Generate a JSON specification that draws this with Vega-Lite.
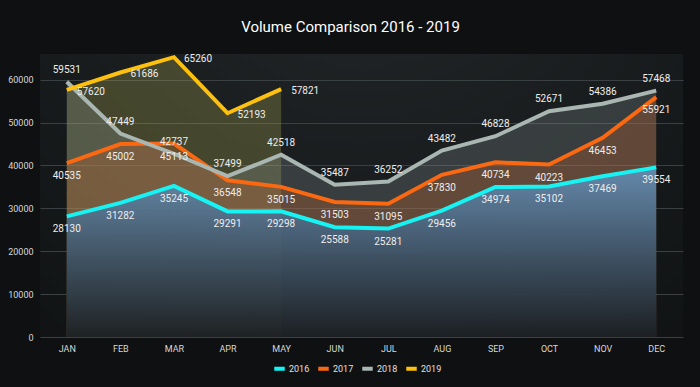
{
  "$schema": "https://vega.github.io/schema/vega-lite/v6.json",
  "width": 643,
  "height": 283,
  "autosize": "none",
  "padding": {"left": 40, "top": 54, "right": 17, "bottom": 50},
  "background": "#0e1011",
  "title": {"text": "Volume Comparison 2016 - 2019", "color": "#ffffff", "fontSize": 15, "fontWeight": "normal", "font": "Roboto, sans-serif", "offset": 14, "dx": -11},
  "data": {"values": [
    {"month": "JAN", "year": "2016", "value": 28130}, {"month": "FEB", "year": "2016", "value": 31282}, {"month": "MAR", "year": "2016", "value": 35245}, {"month": "APR", "year": "2016", "value": 29291}, {"month": "MAY", "year": "2016", "value": 29298}, {"month": "JUN", "year": "2016", "value": 25588}, {"month": "JUL", "year": "2016", "value": 25281}, {"month": "AUG", "year": "2016", "value": 29456}, {"month": "SEP", "year": "2016", "value": 34974}, {"month": "OCT", "year": "2016", "value": 35102}, {"month": "NOV", "year": "2016", "value": 37469}, {"month": "DEC", "year": "2016", "value": 39554},
    {"month": "JAN", "year": "2017", "value": 40535}, {"month": "FEB", "year": "2017", "value": 45002}, {"month": "MAR", "year": "2017", "value": 45113}, {"month": "APR", "year": "2017", "value": 36548}, {"month": "MAY", "year": "2017", "value": 35015}, {"month": "JUN", "year": "2017", "value": 31503}, {"month": "JUL", "year": "2017", "value": 31095}, {"month": "AUG", "year": "2017", "value": 37830}, {"month": "SEP", "year": "2017", "value": 40734}, {"month": "OCT", "year": "2017", "value": 40223}, {"month": "NOV", "year": "2017", "value": 46453}, {"month": "DEC", "year": "2017", "value": 55921},
    {"month": "JAN", "year": "2018", "value": 59531}, {"month": "FEB", "year": "2018", "value": 47449}, {"month": "MAR", "year": "2018", "value": 42737}, {"month": "APR", "year": "2018", "value": 37499}, {"month": "MAY", "year": "2018", "value": 42518}, {"month": "JUN", "year": "2018", "value": 35487}, {"month": "JUL", "year": "2018", "value": 36252}, {"month": "AUG", "year": "2018", "value": 43482}, {"month": "SEP", "year": "2018", "value": 46828}, {"month": "OCT", "year": "2018", "value": 52671}, {"month": "NOV", "year": "2018", "value": 54386}, {"month": "DEC", "year": "2018", "value": 57468},
    {"month": "JAN", "year": "2019", "value": 57620}, {"month": "FEB", "year": "2019", "value": 61686}, {"month": "MAR", "year": "2019", "value": 65260}, {"month": "APR", "year": "2019", "value": 52193}, {"month": "MAY", "year": "2019", "value": 57821}
  ]},
  "encoding": {
    "x": {"field": "month", "type": "ordinal", "sort": ["JAN","FEB","MAR","APR","MAY","JUN","JUL","AUG","SEP","OCT","NOV","DEC"], "scale": {"type": "point", "padding": 0.5},
      "axis": {"title": null, "domain": false, "ticks": false, "grid": false, "labelAngle": 0, "labelColor": "#d8d8d8", "labelFontSize": 9, "labelPadding": 7}},
    "y": {"field": "value", "type": "quantitative", "scale": {"domain": [0, 66000], "nice": false},
      "axis": {"title": null, "values": [0,10000,20000,30000,40000,50000,60000], "format": "d", "domain": false, "ticks": false, "grid": true, "gridColor": "#3b4043", "gridWidth": 1, "labelColor": "#d8d8d8", "labelFontSize": 9, "labelPadding": 7}}
  },
  "layer": [
    {"transform": [{"filter": "datum.year == '2019'"}], "mark": {"type": "area", "color": "#c8c25a", "opacity": 0.25}},
    {"transform": [{"filter": "datum.year == '2018'"}], "mark": {"type": "area", "color": "#8a9696", "opacity": 0.28}},
    {"transform": [{"filter": "datum.year == '2017'"}], "mark": {"type": "area", "color": "#c8652a", "opacity": 0.3}},
    {"transform": [{"filter": "datum.year == '2016'"}], "mark": {"type": "area", "opacity": 0.88, "color": {"gradient": "linear", "x1": 0, "y1": 0, "x2": 0, "y2": 1, "stops": [{"offset": 0, "color": "#6592bb"}, {"offset": 1, "color": "#131a20"}]}}},
    {"mark": {"type": "line", "strokeWidth": 4},
      "encoding": {"color": {"field": "year", "type": "nominal", "scale": {"domain": ["2016","2017","2018","2019"], "range": ["#17f2f2","#fb6812","#a9b6b1","#fdc00e"]},
        "legend": {"title": null, "orient": "none", "legendX": 232, "legendY": 307, "direction": "horizontal", "symbolType": "stroke", "symbolStrokeWidth": 4, "symbolSize": 110, "labelColor": "#e0e0e0", "labelFontSize": 9, "labelOffset": 2, "columnPadding": 0, "symbolOffset": 0}}}},
    {"transform": [{"filter": "datum.year == '2016' || datum.year == '2017'"}], "mark": {"type": "text", "dy": 13, "color": "#eeeeee", "fontSize": 10}, "encoding": {"text": {"field": "value", "type": "quantitative", "format": "d"}}},
    {"transform": [{"filter": "datum.year == '2018'"}], "mark": {"type": "text", "dy": -12, "color": "#eeeeee", "fontSize": 10}, "encoding": {"text": {"field": "value", "type": "quantitative", "format": "d"}}},
    {"transform": [{"filter": "datum.year == '2019'"}], "mark": {"type": "text", "dx": 10, "dy": 2, "align": "left", "color": "#eeeeee", "fontSize": 10}, "encoding": {"text": {"field": "value", "type": "quantitative", "format": "d"}}}
  ],
  "config": {
    "view": {"stroke": null, "fill": {"gradient": "radial", "x1": 0.5, "y1": 0.0, "x2": 0.5, "y2": 0.0, "r1": 0, "r2": 1.0, "stops": [{"offset": 0, "color": "#24292b"}, {"offset": 1, "color": "#0e1011"}]}},
    "font": "Roboto, sans-serif",
    "text": {"font": "Roboto, sans-serif"},
    "axis": {"labelFont": "Roboto, sans-serif"},
    "legend": {"labelFont": "Roboto, sans-serif"}
  }
}
